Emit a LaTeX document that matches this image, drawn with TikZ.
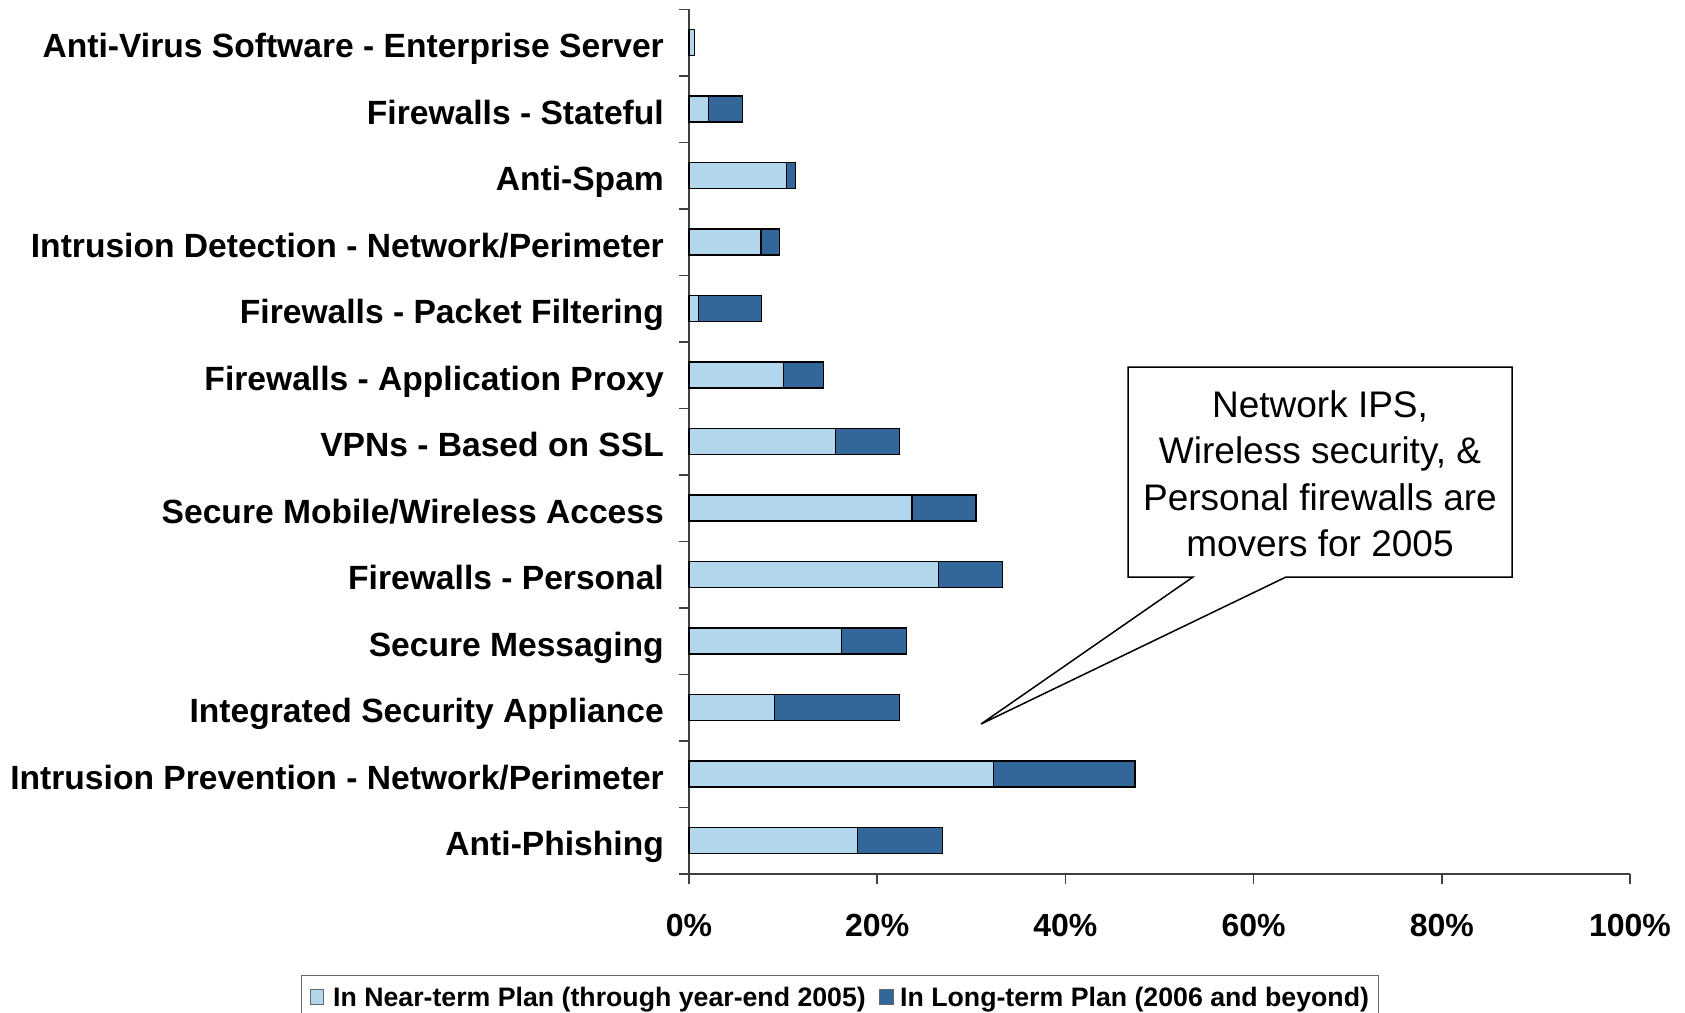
\documentclass[tikz,border=0pt]{standalone}
\usepackage{fontspec}
\setmainfont{Liberation Sans}

\definecolor{nearblue}{RGB}{178,215,237}
\definecolor{longblue}{RGB}{51,102,153}

\begin{document}
\begin{tikzpicture}[x=1pt, y=-1pt,
    nearbar/.style={fill=nearblue, draw=black, line width=1.2pt},
    longbar/.style={fill=longblue, draw=black, line width=1.2pt},
    axisline/.style={draw=black!75, line width=1.5pt},
    catlabel/.style={anchor=base east, inner sep=0pt, font=\bfseries\fontsize{33.6}{36}\selectfont},
    ticklabel/.style={anchor=base, inner sep=0pt, font=\bfseries\fontsize{32}{36}\selectfont},
    keytext/.style={anchor=base west, inner sep=0pt, font=\bfseries\fontsize{26.7}{30}\selectfont},
    keybox/.style={draw=black!60, line width=1pt}]
    %--------------------%
    % Parameters
    %--------------------%
    \def\xo{689}
    \def\pct{9.41}
    \def\barh{13}
    \def\labx{664}
    \def\laby{15}
    \def\axisy{874}

    \useasboundingbox (0,0) rectangle (1685,1012);

    %--------------------%
    % Axes
    %--------------------%
    \draw[axisline] (\xo, 9.3) -- (\xo, \axisy);
    \draw[axisline] (679, \axisy) -- (1630, \axisy);
    \foreach \k in {0,...,13}
        \draw[axisline] (679, 9.3+66.5*\k) -- (\xo, 9.3+66.5*\k);
    \foreach \p in {0,20,...,100}
        \draw[axisline] ({\xo+\p*\pct}, \axisy) -- ({\xo+\p*\pct}, \axisy+10);

    % Tick labels
    \node[ticklabel] (tick0) at ({\xo+0*\pct}, 936.5) {0\%};
    \node[ticklabel] (tick20) at ({\xo+20*\pct}, 936.5) {20\%};
    \node[ticklabel] (tick40) at ({\xo+40*\pct}, 936.5) {40\%};
    \node[ticklabel] (tick60) at ({\xo+60*\pct}, 936.5) {60\%};
    \node[ticklabel] (tick80) at ({\xo+80*\pct}, 936.5) {80\%};
    \node[ticklabel] (tick100) at ({\xo+100*\pct}, 936.5) {100\%};

    %--------------------%
    % Bars and Labels
    %--------------------%
    % Anti-Virus Software - Enterprise Server
    \draw[nearbar] (\xo, 42.5-\barh) rectangle ({\xo+0.6*\pct}, 42.5+\barh);
    \node[catlabel] (antivirus) at (\labx, 42.5+\laby) {Anti-Virus Software - Enterprise Server};

    % Firewalls - Stateful
    \draw[nearbar] (\xo, 109-\barh) rectangle ({\xo+2.1*\pct}, 109+\barh);
    \draw[longbar] ({\xo+2.1*\pct}, 109-\barh) rectangle ({\xo+5.7*\pct}, 109+\barh);
    \node[catlabel] (stateful) at (\labx, 109+\laby) {Firewalls - Stateful};

    % Anti-Spam
    \draw[nearbar] (\xo, 175.5-\barh) rectangle ({\xo+10.4*\pct}, 175.5+\barh);
    \draw[longbar] ({\xo+10.4*\pct}, 175.5-\barh) rectangle ({\xo+11.3*\pct}, 175.5+\barh);
    \node[catlabel] (antispam) at (\labx, 175.5+\laby) {Anti-Spam};

    % Intrusion Detection - Network/Perimeter
    \draw[nearbar] (\xo, 242-\barh) rectangle ({\xo+7.65*\pct}, 242+\barh);
    \draw[longbar] ({\xo+7.65*\pct}, 242-\barh) rectangle ({\xo+9.6*\pct}, 242+\barh);
    \node[catlabel] (detection) at (\labx, 242+\laby) {Intrusion Detection - Network/Perimeter};

    % Firewalls - Packet Filtering
    \draw[nearbar] (\xo, 308.5-\barh) rectangle ({\xo+1.0*\pct}, 308.5+\barh);
    \draw[longbar] ({\xo+1.0*\pct}, 308.5-\barh) rectangle ({\xo+7.7*\pct}, 308.5+\barh);
    \node[catlabel] (packet) at (\labx, 308.5+\laby) {Firewalls - Packet Filtering};

    % Firewalls - Application Proxy
    \draw[nearbar] (\xo, 375-\barh) rectangle ({\xo+10.0*\pct}, 375+\barh);
    \draw[longbar] ({\xo+10.0*\pct}, 375-\barh) rectangle ({\xo+14.3*\pct}, 375+\barh);
    \node[catlabel] (proxy) at (\labx, 375+\laby) {Firewalls - Application Proxy};

    % VPNs - Based on SSL
    \draw[nearbar] (\xo, 441.5-\barh) rectangle ({\xo+15.6*\pct}, 441.5+\barh);
    \draw[longbar] ({\xo+15.6*\pct}, 441.5-\barh) rectangle ({\xo+22.4*\pct}, 441.5+\barh);
    \node[catlabel] (vpn) at (\labx, 441.5+\laby) {VPNs - Based on SSL};

    % Secure Mobile/Wireless Access
    \draw[nearbar] (\xo, 508-\barh) rectangle ({\xo+23.7*\pct}, 508+\barh);
    \draw[longbar] ({\xo+23.7*\pct}, 508-\barh) rectangle ({\xo+30.5*\pct}, 508+\barh);
    \node[catlabel] (wireless) at (\labx, 508+\laby) {Secure Mobile/Wireless Access};

    % Firewalls - Personal
    \draw[nearbar] (\xo, 574.5-\barh) rectangle ({\xo+26.5*\pct}, 574.5+\barh);
    \draw[longbar] ({\xo+26.5*\pct}, 574.5-\barh) rectangle ({\xo+33.3*\pct}, 574.5+\barh);
    \node[catlabel] (personal) at (\labx, 574.5+\laby) {Firewalls - Personal};

    % Secure Messaging
    \draw[nearbar] (\xo, 641-\barh) rectangle ({\xo+16.2*\pct}, 641+\barh);
    \draw[longbar] ({\xo+16.2*\pct}, 641-\barh) rectangle ({\xo+23.1*\pct}, 641+\barh);
    \node[catlabel] (messaging) at (\labx, 641+\laby) {Secure Messaging};

    % Integrated Security Appliance
    \draw[nearbar] (\xo, 707.5-\barh) rectangle ({\xo+9.1*\pct}, 707.5+\barh);
    \draw[longbar] ({\xo+9.1*\pct}, 707.5-\barh) rectangle ({\xo+22.4*\pct}, 707.5+\barh);
    \node[catlabel] (appliance) at (\labx, 707.5+\laby) {Integrated Security Appliance};

    % Intrusion Prevention - Network/Perimeter
    \draw[nearbar] (\xo, 774-\barh) rectangle ({\xo+32.4*\pct}, 774+\barh);
    \draw[longbar] ({\xo+32.4*\pct}, 774-\barh) rectangle ({\xo+47.4*\pct}, 774+\barh);
    \node[catlabel] (prevention) at (\labx, 774+\laby) {Intrusion Prevention - Network/Perimeter};

    % Anti-Phishing
    \draw[nearbar] (\xo, 840.5-\barh) rectangle ({\xo+17.9*\pct}, 840.5+\barh);
    \draw[longbar] ({\xo+17.9*\pct}, 840.5-\barh) rectangle ({\xo+26.9*\pct}, 840.5+\barh);
    \node[catlabel] (phishing) at (\labx, 840.5+\laby) {Anti-Phishing};

    %--------------------%
    % Callout
    %--------------------%
    \coordinate (tip) at (981, 724);
    \draw[line width=1.5pt, fill=white] (1128,367) -- (1512,367) -- (1512,577) -- (1286,577)
        -- (tip) -- (1193,577) -- (1128,577) -- cycle;
    \node[align=center, anchor=north, inner sep=0pt, font=\fontsize{37}{46.5}\selectfont] (movers)
        at (1320, 390) {Network IPS,\\Wireless security, \&\\Personal firewalls are\\movers for 2005};

    %--------------------%
    % Legend
    %--------------------%
    \draw[keybox] (301, 975) rectangle (1378, 1030);
    \draw[keybox, fill=nearblue] (310.5, 989) rectangle (323.5, 1004);
    \node[keytext] (nearkey) at (333, 1006) {In Near-term Plan (through year-end 2005)};
    \draw[keybox, fill=longblue] (879, 989) rectangle (893, 1004);
    \node[keytext] (longkey) at (900, 1006) {In Long-term Plan (2006 and beyond)};
\end{tikzpicture}
\end{document}
